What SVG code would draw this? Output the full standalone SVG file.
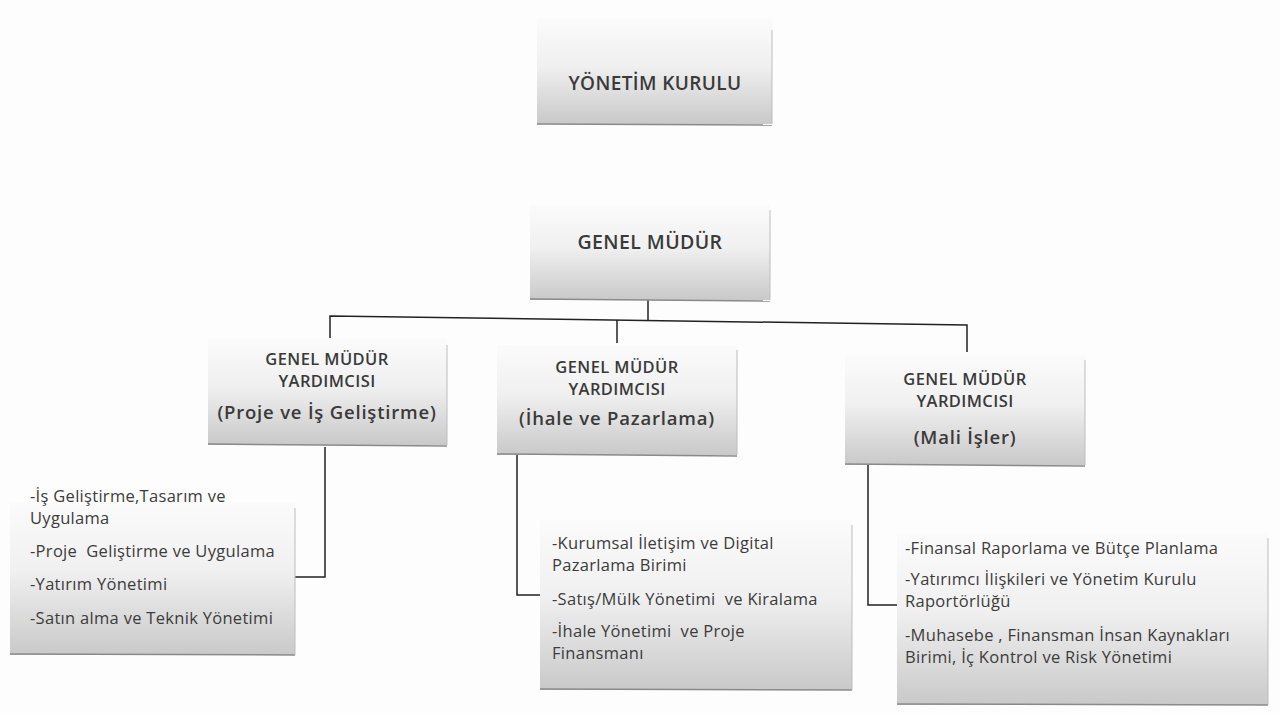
<svg xmlns="http://www.w3.org/2000/svg" width="1280" height="713" viewBox="0 0 1280 713">
<defs>
<linearGradient id="g" x1="0" y1="0" x2="0" y2="1">
<stop offset="0" stop-color="#fbfbfb"/>
<stop offset="0.45" stop-color="#f0f0f0"/>
<stop offset="1" stop-color="#c9c9c9"/>
</linearGradient>
<style>
.box{fill:url(#g);}
.edge{stroke:#8a8a8a;stroke-width:1.5;fill:none;}
.side{stroke:#bdbdbd;stroke-width:1;fill:none;}
.h{font-family:"Open Sans","Liberation Sans",sans-serif;font-weight:600;fill:#3a3a3a;text-anchor:middle;letter-spacing:0.4px;}
.t{font-family:"Open Sans","Liberation Sans",sans-serif;font-size:16.5px;fill:#3c3c3c;white-space:pre;letter-spacing:0.3px;}
.c{stroke:#222;stroke-width:1.5;fill:none;}
</style>
</defs>
<rect width="1280" height="713" fill="#fdfdfd"/>
<g id="connectors">
<polyline class="c" points="648,300 648,320"/>
<polyline class="c" points="330,340 330,316 967,325 967,352"/>
<polyline class="c" points="617,320 617,343"/>
<polyline class="c" points="325,447 325,577 295,577"/>
<polyline class="c" points="517,455 517,595 552,595"/>
<polyline class="c" points="868,465 868,605 897,605"/>
</g>
<g id="yonetim-kurulu">
<rect class="box" x="537" y="18" width="235" height="106"/>
<line class="edge" x1="537" y1="124" x2="772" y2="125"/>
<line class="side" x1="772" y1="30" x2="772" y2="124"/>
<text class="h" x="655" y="90" font-size="19">YÖNETİM KURULU</text>
</g>
<g id="genel-mudur">
<rect class="box" x="530" y="205" width="240" height="95"/>
<line class="edge" x1="530" y1="299" x2="770" y2="301"/>
<line class="side" x1="770" y1="210" x2="770" y2="300"/>
<text class="h" x="650" y="249" font-size="19.5">GENEL MÜDÜR</text>
</g>
<g id="gmy-proje">
<rect class="box" x="208" y="338" width="239" height="107"/>
<line class="edge" x1="208" y1="444" x2="447" y2="446"/>
<line class="side" x1="447" y1="345" x2="447" y2="445"/>
<text class="h" x="327" y="365" font-size="16.5">GENEL MÜDÜR</text>
<text class="h" x="327" y="387" font-size="16.5">YARDIMCISI</text>
<text class="h" x="327" y="419" font-size="18.5" style="letter-spacing:0.8px">(Proje ve İş Geliştirme)</text>
</g>
<g id="gmy-ihale">
<rect class="box" x="497" y="345" width="240" height="110"/>
<line class="edge" x1="497" y1="454" x2="737" y2="456"/>
<line class="side" x1="737" y1="350" x2="737" y2="455"/>
<text class="h" x="617" y="373" font-size="16.5">GENEL MÜDÜR</text>
<text class="h" x="617" y="395" font-size="16.5">YARDIMCISI</text>
<text class="h" x="617" y="425" font-size="18.5" style="letter-spacing:0.8px">(İhale ve Pazarlama)</text>
</g>
<g id="gmy-mali">
<rect class="box" x="845" y="355" width="240" height="110"/>
<line class="edge" x1="845" y1="464" x2="1085" y2="466"/>
<line class="side" x1="1085" y1="360" x2="1085" y2="465"/>
<text class="h" x="965" y="385" font-size="16.5">GENEL MÜDÜR</text>
<text class="h" x="965" y="407" font-size="16.5">YARDIMCISI</text>
<text class="h" x="965" y="444" font-size="18.5" style="letter-spacing:0.8px">(Mali İşler)</text>
</g>
<g id="list-proje">
<rect class="box" x="10" y="503" width="285" height="152"/>
<line class="edge" x1="10" y1="654" x2="295" y2="655"/>
<line class="side" x1="295" y1="508" x2="295" y2="655"/>
<text class="t" x="30" y="502">-İş Geliştirme,Tasarım ve</text>
<text class="t" x="30" y="524">Uygulama</text>
<text class="t" x="30" y="557">-Proje  Geliştirme ve Uygulama</text>
<text class="t" x="30" y="590">-Yatırım Yönetimi</text>
<text class="t" x="30" y="624">-Satın alma ve Teknik Yönetimi</text>
</g>
<g id="list-ihale">
<rect class="box" x="540" y="520" width="312" height="170"/>
<line class="edge" x1="540" y1="689" x2="852" y2="690"/>
<line class="side" x1="852" y1="525" x2="852" y2="690"/>
<text class="t" x="552" y="549">-Kurumsal İletişim ve Digital</text>
<text class="t" x="552" y="571">Pazarlama Birimi</text>
<text class="t" x="552" y="605">-Satış/Mülk Yönetimi  ve Kiralama</text>
<text class="t" x="552" y="637">-İhale Yönetimi  ve Proje</text>
<text class="t" x="552" y="659">Finansmanı</text>
</g>
<g id="list-mali">
<rect class="box" x="897" y="533" width="371" height="172"/>
<line class="edge" x1="897" y1="704" x2="1268" y2="705"/>
<line class="side" x1="1268" y1="538" x2="1268" y2="705"/>
<text class="t" x="905" y="554">-Finansal Raporlama ve Bütçe Planlama</text>
<text class="t" x="905" y="585">-Yatırımcı İlişkileri ve Yönetim Kurulu</text>
<text class="t" x="905" y="607">Raportörlüğü</text>
<text class="t" x="905" y="641">-Muhasebe , Finansman İnsan Kaynakları</text>
<text class="t" x="905" y="663">Birimi, İç Kontrol ve Risk Yönetimi</text>
</g>
</svg>
